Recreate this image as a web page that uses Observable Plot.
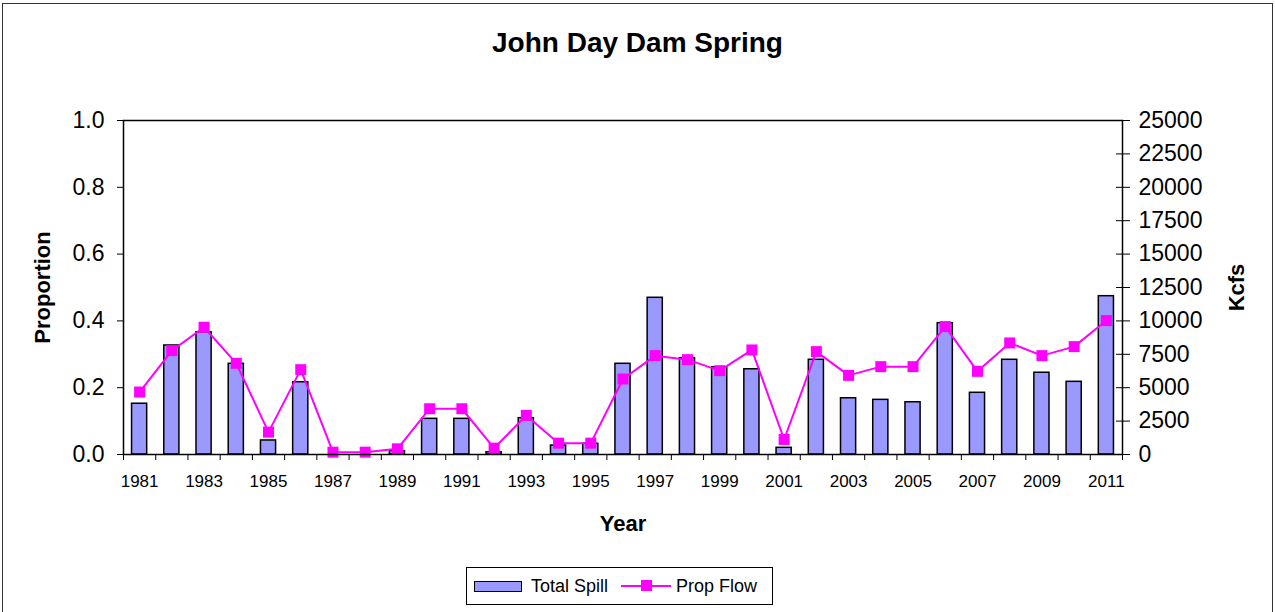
<!DOCTYPE html>
<html>
<head>
<meta charset="utf-8">
<script src="https://cdn.jsdelivr.net/npm/d3@7"></script>
<script src="https://cdn.jsdelivr.net/npm/@observablehq/plot@0.6"></script>
<style>
  html, body { margin: 0; padding: 0; background: #fff; }
  body { width: 1275px; height: 612px; overflow: hidden; font-family: "Liberation Sans", Arial, sans-serif; }
  #wrap { position: relative; width: 1275px; height: 612px; overflow: hidden; }
  #border { position: absolute; left: 2px; top: 3px; width: 1269px; height: 640px; border: 1.5px solid #333; }
  #title { position: absolute; left: 0; top: 27px; width: 1275px; text-align: center; font-weight: bold; font-size: 28px; color: #000; }
  #chart { position: absolute; left: 0; top: 80px; }
  #legend { position: absolute; left: 466px; top: 567px; width: 305px; height: 36px; border: 1px solid #000; background: #fff; font-size: 18px; color: #000; }
  .sw { position: absolute; left: 7px; top: 13px; width: 46px; height: 9px; background: #9999FF; border: 1.5px solid #000; }
  .lab { position: absolute; top: 7px; line-height: 22px; }
  .ln { position: absolute; left: 154px; top: 17px; width: 50px; height: 2px; background: #FF00FF; }
  .mk { position: absolute; left: 174px; top: 12px; width: 11px; height: 11px; background: #FF00FF; }
</style>
</head>
<body>
<div id="wrap">
  <div id="border"></div>
  <div id="title">John Day Dam Spring</div>
  <div id="chart"></div>
  <div id="legend">
    <span class="sw"></span><span class="lab" style="left:64px">Total Spill</span>
    <span class="ln"></span><span class="mk"></span><span class="lab" style="left:209px">Prop Flow</span>
  </div>
</div>
<script>
const years = [1981,1982,1983,1984,1985,1986,1987,1988,1989,1990,1991,1992,1993,1994,1995,1996,1997,1998,1999,2000,2001,2002,2003,2004,2005,2006,2007,2008,2009,2010,2011];
const totalSpill = [3800,8160,9150,6790,1050,5410,0,0,250,2670,2670,170,2720,670,800,6790,11730,7210,6530,6380,500,7090,4210,4090,3910,9830,4620,7090,6120,5440,11850];
const propFlow = [0.187,0.311,0.381,0.273,0.067,0.254,0.007,0.007,0.017,0.137,0.137,0.019,0.117,0.034,0.034,0.226,0.296,0.284,0.251,0.313,0.045,0.308,0.237,0.263,0.263,0.383,0.249,0.334,0.296,0.323,0.401];
const leftTicks = [0,0.2,0.4,0.6,0.8,1.0];
const rightTicks = [0,2500,5000,7500,10000,12500,15000,17500,20000,22500,25000];
const labelYears = [1981,1983,1985,1987,1989,1991,1993,1995,1997,1999,2001,2003,2005,2007,2009,2011];
const kcfsMax = 25000;

const data = years.map((year, i) => ({year, spill: totalSpill[i], prop: propFlow[i]}));

const W = 1275, H = 470, ML = 123, MR = 153, MT = 40, MB = 96;
const step = (W - ML - MR) / years.length;

const chart = Plot.plot({
  width: W,
  height: H,
  marginLeft: ML,
  marginRight: MR,
  marginTop: MT,
  marginBottom: MB,
  style: {fontFamily: "Liberation Sans, Arial, sans-serif", color: "#000", background: "transparent"},
  x: {type: "band", domain: years, paddingInner: 0.53, paddingOuter: 0.265, round: false, axis: null},
  y: {domain: [0, 1], axis: null},
  marks: [
    Plot.barY(data, {x: "year", y: d => d.spill / kcfsMax, fill: "#9999FF", stroke: "#000", strokeWidth: 1.5}),
    Plot.line(data, {x: "year", y: "prop", stroke: "#FF00FF", strokeWidth: 2}),
    Plot.dot(data, {x: "year", y: "prop", symbol: "square", r: 6.2, fill: "#FF00FF", stroke: "none"}),
    Plot.frame({stroke: "#000", strokeWidth: 1.5}),
    Plot.axisY({anchor: "left", ticks: leftTicks, tickFormat: d => d.toFixed(1), tickSize: 6, tickPadding: 13, fontSize: 23, label: null}),
    Plot.axisY({anchor: "right", ticks: rightTicks.map(v => v / kcfsMax), tickFormat: d => String(Math.round(d * kcfsMax)), tickSize: 7, tickPadding: 9, fontSize: 23, label: null}),
    Plot.axisY({anchor: "right", ticks: rightTicks.map(v => v / kcfsMax), tickFormat: () => "", tickSize: -7, label: null}),
    Plot.axisX({ticks: years, tickFormat: () => "", tickSize: 6, dx: -step / 2, label: null}),
    Plot.axisX({ticks: [years[years.length - 1]], tickFormat: () => "", tickSize: 6, dx: step / 2, label: null}),
    Plot.axisX({ticks: labelYears, tickFormat: d => String(d), tickSize: 0, tickPadding: 20, fontSize: 17, label: null}),
    Plot.text(["Year"], {frameAnchor: "bottom", dy: 69, text: d => d, fontSize: 22, fontWeight: "bold", textAnchor: "middle", lineAnchor: "middle"}),
    Plot.text(["Proportion"], {frameAnchor: "left", dx: -81, rotate: -90, text: d => d, fontSize: 22, fontWeight: "bold", textAnchor: "middle", lineAnchor: "middle"}),
    Plot.text(["Kcfs"], {frameAnchor: "right", dx: 114, rotate: -90, text: d => d, fontSize: 22, fontWeight: "bold", textAnchor: "middle", lineAnchor: "middle"})
  ]
});
document.getElementById("chart").appendChild(chart);
</script>
</body>
</html>
